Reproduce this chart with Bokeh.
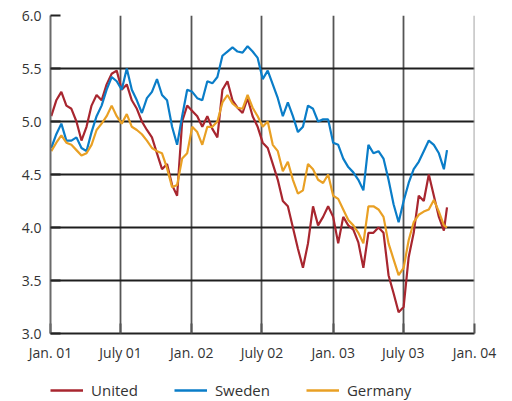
from datetime import datetime
import pandas as pd
from bokeh.plotting import figure
from bokeh.layouts import column
from bokeh.models import Range1d, FixedTicker, Legend, LegendItem, ColumnDataSource, Grid
from bokeh.embed import file_html
from bokeh.resources import INLINE

dates = ["2001-01-03","2001-01-16","2001-01-29","2001-02-11","2001-02-24","2001-03-09","2001-03-22","2001-04-04",
         "2001-04-17","2001-04-30","2001-05-13","2001-05-26","2001-06-08","2001-06-21","2001-07-04","2001-07-17",
         "2001-07-30","2001-08-12","2001-08-25","2001-09-07","2001-09-20","2001-10-03","2001-10-16","2001-10-29",
         "2001-11-11","2001-11-24","2001-12-07","2001-12-20","2002-01-02","2002-01-15","2002-01-28","2002-02-10",
         "2002-02-23","2002-03-08","2002-03-21","2002-04-03","2002-04-16","2002-04-29","2002-05-12","2002-05-25",
         "2002-06-07","2002-06-20","2002-07-03","2002-07-16","2002-07-29","2002-08-11","2002-08-24","2002-09-06",
         "2002-09-19","2002-10-02","2002-10-15","2002-10-28","2002-11-10","2002-11-23","2002-12-06","2002-12-19",
         "2003-01-01","2003-01-14","2003-01-27","2003-02-09","2003-02-22","2003-03-07","2003-03-20","2003-04-02",
         "2003-04-15","2003-04-28","2003-05-11","2003-05-24","2003-06-06","2003-06-19","2003-07-02","2003-07-15",
         "2003-07-28","2003-08-10","2003-08-23","2003-09-05","2003-09-18","2003-10-01","2003-10-14","2003-10-22"]

united = [5.05,5.20,5.28,5.15,5.12,5.00,4.82,4.95,5.15,5.25,5.20,5.35,5.45,5.48,5.30,5.35,
          5.20,5.12,5.00,4.92,4.85,4.70,4.55,4.60,4.40,4.30,5.00,5.15,5.10,5.05,4.95,5.05,
          4.93,4.85,5.30,5.38,5.20,5.13,5.08,5.22,5.05,4.95,4.80,4.75,4.60,4.45,4.25,4.20,
          4.00,3.80,3.62,3.85,4.20,4.02,4.10,4.20,4.10,3.85,4.10,4.02,3.98,3.86,3.62,3.95,
          3.95,4.00,3.95,3.55,3.38,3.20,3.25,3.72,3.95,4.30,4.25,4.50,4.30,4.10,3.97,4.19]

sweden = [4.75,4.88,4.98,4.82,4.82,4.85,4.75,4.72,4.90,5.05,5.15,5.30,5.42,5.38,5.30,5.50,
          5.30,5.20,5.08,5.22,5.28,5.40,5.25,5.20,4.95,4.78,5.05,5.30,5.28,5.22,5.20,5.38,
          5.36,5.42,5.62,5.66,5.70,5.66,5.65,5.71,5.66,5.60,5.40,5.48,5.35,5.22,5.05,5.18,
          5.05,4.90,4.95,5.15,5.12,5.00,5.02,5.02,4.80,4.78,4.65,4.57,4.52,4.45,4.35,4.78,
          4.70,4.72,4.65,4.45,4.22,4.05,4.25,4.42,4.55,4.62,4.72,4.82,4.78,4.70,4.55,4.73]

germany = [4.72,4.80,4.87,4.80,4.78,4.73,4.68,4.70,4.78,4.92,4.98,5.05,5.15,5.05,4.98,5.07,
           4.95,4.92,4.88,4.82,4.75,4.72,4.70,4.56,4.38,4.40,4.65,4.70,4.95,4.90,4.78,4.95,
           4.95,5.00,5.18,5.25,5.17,5.13,5.12,5.25,5.13,5.05,4.95,5.00,4.78,4.72,4.53,4.62,
           4.45,4.32,4.35,4.60,4.55,4.45,4.42,4.50,4.30,4.27,4.17,4.07,4.02,3.95,3.85,4.20,
           4.20,4.17,4.10,3.85,3.70,3.55,3.62,3.88,4.05,4.12,4.15,4.17,4.26,4.15,4.02,4.00]

tick_dates = ["2001-01-01","2001-07-01","2002-01-01","2002-07-01","2003-01-01","2003-07-01","2004-01-01"]
tick_labels = ["Jan. 01","July 01","Jan. 02","July 02","Jan. 03","July 03","Jan. 04"]
y_ticks = [3.0, 3.5, 4.0, 4.5, 5.0, 5.5, 6.0]

series_names = ["United", "Sweden", "Germany"]
series_cols = ["united", "sweden", "germany"]
series_colors = ["#a8262f", "#0a7dc8", "#e9a024"]

FONT = "Open Sans"

x = pd.to_datetime(dates)
src = ColumnDataSource(dict(x=x, united=united, sweden=sweden, germany=germany))

tick_ms = [pd.Timestamp(d).value // 10**6 for d in tick_dates]
DAY_MS = 86400000

p = figure(x_axis_type="datetime", output_backend="svg", toolbar_location=None,
           width=504, height=365,
           min_border_left=50, min_border_right=30, min_border_top=15, min_border_bottom=32,
           x_range=Range1d(pd.Timestamp(tick_dates[0]), pd.Timestamp(tick_dates[-1])),
           y_range=Range1d(3.0, 6.0))
p.outline_line_color = None
p.background_fill_color = "white"
p.border_fill_color = "white"

p.xaxis.ticker = FixedTicker(ticks=tick_ms)
p.xaxis.major_label_overrides = {t: l for t, l in zip(tick_ms, tick_labels)}
p.yaxis.ticker = FixedTicker(ticks=y_ticks)
p.yaxis.major_label_overrides = {v: f"{v:.1f}" for v in y_ticks}

for ax in (p.xaxis[0], p.yaxis[0]):
    ax.major_label_text_font = FONT
    ax.major_label_text_font_size = "14px"
    ax.major_label_text_color = "#333333"
    ax.minor_tick_line_color = None
    ax.major_tick_out = 0
    ax.major_tick_in = 10
    ax.axis_line_width = 2
    ax.major_tick_line_width = 2
p.yaxis.axis_line_color = "#6a6a6a"
p.yaxis.major_tick_line_color = "#222222"
p.xaxis.axis_line_color = "#222222"
p.xaxis.major_tick_line_color = "#555555"
p.xaxis.major_label_standoff = 9
p.yaxis.major_label_standoff = 9

p.xgrid.ticker = FixedTicker(ticks=tick_ms[1:-1])
p.xgrid.grid_line_color = "#555555"
p.xgrid.grid_line_width = 1.8
p.ygrid.ticker = FixedTicker(ticks=y_ticks[1:-1])
p.ygrid.grid_line_color = "#1e1e1e"
p.ygrid.grid_line_width = 1.8

# light right-hand border line at Jan. 04
edge = Grid(dimension=0, ticker=FixedTicker(ticks=[tick_ms[-1] - DAY_MS]),
            grid_line_color="#9a9a9a", grid_line_width=1.8)
p.add_layout(edge)

for col, color in zip(series_cols, series_colors):
    p.line("x", col, source=src, line_color=color, line_width=2.2)

# legend strip as a separate small figure underneath
lf = figure(output_backend="svg", toolbar_location=None, width=504, height=35,
            min_border_left=50, min_border_right=30, min_border_top=0, min_border_bottom=0,
            x_range=Range1d(0, 1), y_range=Range1d(0, 1))
lf.axis.visible = False
lf.grid.visible = False
lf.outline_line_color = None
lf.border_fill_color = "white"
nan = float("nan")
dummy = ColumnDataSource(dict(x=[nan, nan], y=[nan, nan]))
leg_renderers = [lf.line("x", "y", source=dummy, line_color=c, line_width=2.6) for c in series_colors]

legend = Legend(items=[LegendItem(label=n, renderers=[r], index=0) for n, r in zip(series_names, leg_renderers)],
                orientation="horizontal", location=(0, 0))
legend.label_text_font = FONT
legend.label_text_font_size = "15px"
legend.label_text_color = "#333333"
legend.glyph_width = 33
legend.glyph_height = 16
legend.label_standoff = 8
legend.spacing = 36
legend.border_line_color = None
legend.background_fill_alpha = 0
legend.padding = 0
legend.margin = 0
lf.add_layout(legend, "center")

open("out.html", "w").write(file_html(column(p, lf, spacing=0), INLINE))
